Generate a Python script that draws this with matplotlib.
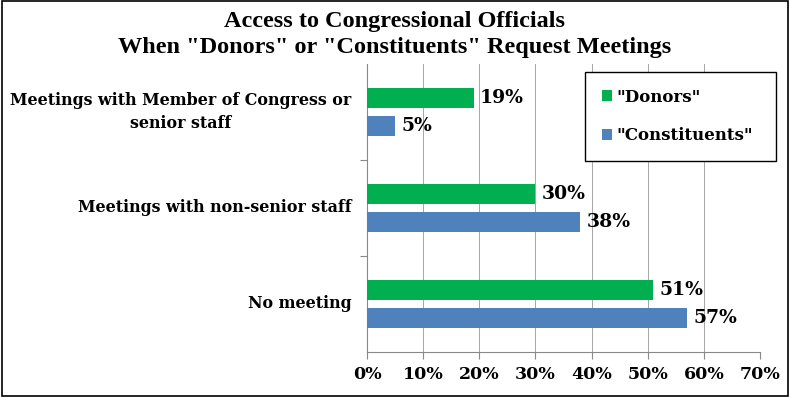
import matplotlib.pyplot as plt
import numpy as np

categorias = ["Meetings with Member of Congress or\nsenior staff",
              "Meetings with non-senior staff",
              "No meeting"]
donors = [19, 30, 51]
constituents = [5, 38, 57]
series = ['"Donors"', '"Constituents"']
colores = ['#00B050', '#4F81BD']
xticks = [0, 10, 20, 30, 40, 50, 60, 70]

fuente = 'DejaVu Serif'

fig = plt.figure(figsize=(7.9, 3.97), dpi=100)
ax = fig.add_axes([367/790, 1-352/397, 393/790, 288/397])

y = np.arange(len(categorias))
alto = 0.21
ax.barh(y - 0.145, donors, height=alto, color=colores[0], label=series[0], zorder=3)
ax.barh(y + 0.145, constituents, height=alto, color=colores[1], label=series[1], zorder=3)

# etiquetas de valores
for i in range(len(categorias)):
    ax.text(donors[i] + 1.1, y[i] - 0.145, f"{donors[i]}%", va='center', ha='left',
            fontsize=13.5, fontweight='bold', family=fuente)
    ax.text(constituents[i] + 1.1, y[i] + 0.145, f"{constituents[i]}%", va='center', ha='left',
            fontsize=13.5, fontweight='bold', family=fuente)

ax.set_xlim(0, 70)
ax.set_ylim(2.5, -0.5)
ax.set_xticks(xticks)
ax.set_xticklabels([f"{v}%" for v in xticks], fontsize=12.5, fontweight='bold', family=fuente)
ax.set_yticks([0.5, 1.5])
ax.set_yticklabels([])
ax.tick_params(axis='y', length=5, color='#888888', direction='out')
ax.tick_params(axis='x', length=5, color='#888888', direction='out', pad=5)
for i, c in enumerate(categorias):
    ax.text(-0.04, i, c, transform=ax.get_yaxis_transform(), ha='right', va='center',
            fontsize=11.4, fontweight='bold', family=fuente, multialignment='center',
            linespacing=1.5)

ax.grid(axis='x', color='#A6A6A6', linewidth=0.7, zorder=0)
for s in ['top', 'right']:
    ax.spines[s].set_visible(False)
for s in ['left', 'bottom']:
    ax.spines[s].set_color('#888888')

fig.text(0.5, 1-22/397, "Access to Congressional Officials", ha='center', va='center',
         fontsize=17.5, fontweight='bold', family='Liberation Serif')
fig.text(0.5, 1-47/397, 'When "Donors" or "Constituents" Request Meetings', ha='center', va='center',
         fontsize=17.5, fontweight='bold', family='Liberation Serif')

leg = ax.legend(loc='upper left', bbox_to_anchor=(585/790, 1-157/397, 191/790, 85/397),
                bbox_transform=fig.transFigure, mode='expand', fancybox=False,
                edgecolor='black', framealpha=1, handlelength=0.6, handleheight=0.6,
                labelspacing=1.3, borderpad=1.0, handletextpad=0.3, borderaxespad=0,
                prop={'family': fuente, 'weight': 'bold', 'size': 12})
leg.get_frame().set_linewidth(1.0)
leg.set_zorder(5)
leg._legend_box.align = 'left'

fig.patches.append(plt.Rectangle((0.002, 0.003), 0.996, 0.994, transform=fig.transFigure,
                                 fill=False, edgecolor='black', linewidth=1.2))

fig.savefig('out.png', dpi=100)
